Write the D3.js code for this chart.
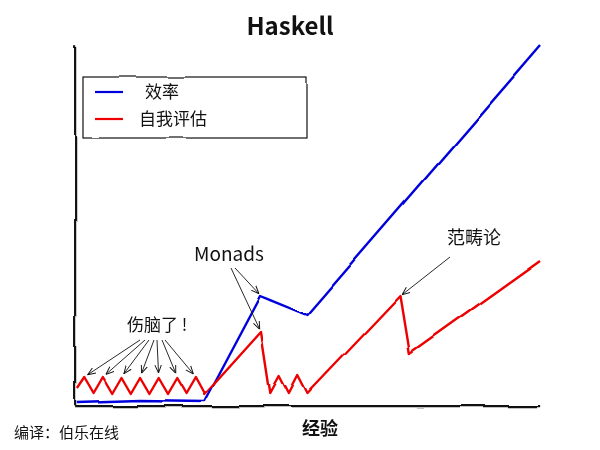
<!DOCTYPE html>
<html>
<head>
<meta charset="utf-8">
<script src="https://cdn.jsdelivr.net/npm/d3@7/dist/d3.min.js"></script>
<style>
  body { margin: 0; background: #fff; }
  svg { display: block; }
  text { font-family: "Noto Sans CJK SC", "Noto Sans", sans-serif; fill: #111; }
</style>
</head>
<body>
<svg id="chart" width="600" height="450"></svg>
<script>
// ---- data ----
const redX = [0.2, 1, 2, 3, 4, 5, 6, 7, 8, 9, 10, 11, 12, 13, 14, 20, 21, 22, 23, 24, 25, 35, 36, 50];
const redY = [1.7, 2.8, 1.2, 2.8, 1.2, 2.8, 1.2, 2.8, 1.2, 2.8, 1.2, 2.8, 1.2, 2.8, 1.1, 7.3, 1.2, 2.9, 1.1, 2.9, 1.1, 10.9, 5.2, 14.5];
const blueX = [0.2, 7, 14, 20, 25, 50];
const blueY = [0.3, 0.5, 0.4, 10.9, 9.0, 35.9];
const seriesNames = ["效率", "自我评估"];
const title = "Haskell";
const xLabel = "经验";
const credit = "编译：伯乐在线";
// annotations: label and index of target point in a series
const headacheTargets = [1, 3, 5, 7, 9, 11, 13];   // red peaks
const monadsTargets = [{s: "blue", i: 3}, {s: "red", i: 15}];
const categoryTarget = {s: "red", i: 21};

// ---- layout ----
const svg = d3.select("#chart");
const x = d3.scaleLinear().domain([0, 50]).range([75, 540]);
const y = d3.scaleLinear().domain([0, 36]).range([405, 45]);
const K = 4; // supersampling factor for hand-drawn wobble
const xH = x.copy().range(x.range().map(v => v * K));
const yH = y.copy().range(y.range().map(v => v * K));

const defs = svg.append("defs");
function roughFilter(id, freq, scale, seedA, seedB) {
  const f = defs.append("filter").attr("id", id).attr("filterUnits", "userSpaceOnUse")
    .attr("x", 0).attr("y", 0).attr("width", 600 * K).attr("height", 450 * K)
    .attr("color-interpolation-filters", "sRGB");
  f.append("feTurbulence").attr("type", "fractalNoise").attr("baseFrequency", freq / K)
    .attr("numOctaves", 1).attr("seed", seedA).attr("result", "n1");
  f.append("feTurbulence").attr("type", "fractalNoise").attr("baseFrequency", freq / K)
    .attr("numOctaves", 1).attr("seed", seedB).attr("result", "n2");
  f.append("feColorMatrix").attr("in", "n1").attr("type", "matrix")
    .attr("values", "0 0 0 1 0  0 0 0 0 0  0 0 0 0 0  0 0 0 0 1").attr("result", "r");
  f.append("feColorMatrix").attr("in", "n2").attr("type", "matrix")
    .attr("values", "0 0 0 0 0  0 0 0 1 0  0 0 0 0 0  0 0 0 0 1").attr("result", "g");
  f.append("feComposite").attr("in", "r").attr("in2", "g").attr("operator", "arithmetic")
    .attr("k1", 0).attr("k2", 1).attr("k3", 1).attr("k4", 0).attr("result", "map");
  f.append("feDisplacementMap").attr("in", "SourceGraphic").attr("in2", "map")
    .attr("scale", scale * K).attr("xChannelSelector", "R").attr("yChannelSelector", "G");
}
roughFilter("rough", 0.012, 5, 3, 11);
roughFilter("rough2", 0.02, 3.5, 7, 19);

defs.append("marker").attr("id", "arrow")
  .attr("viewBox", "0 0 10 10").attr("refX", 10).attr("refY", 5)
  .attr("markerWidth", 8).attr("markerHeight", 8).attr("markerUnits", "userSpaceOnUse")
  .attr("orient", "auto")
  .append("path").attr("d", "M0,1 L10,5 L0,9").attr("fill", "none")
  .attr("stroke", "#111").attr("stroke-width", 1.2);

function hiGroup(filterId) {
  return svg.append("g").attr("transform", `scale(${1 / K})`)
    .append("g").attr("filter", `url(#${filterId})`);
}

// legend box (drawn first so lines are above nothing)
const legBox = hiGroup("rough2");
legBox.append("rect").attr("x", 83 * K).attr("y", 77 * K).attr("width", 224 * K).attr("height", 61 * K)
  .attr("fill", "#fff").attr("stroke", "#111").attr("stroke-width", 1.2 * K);

// axes (spines only, no ticks)
const axG = hiGroup("rough2");
const xAxis = d3.axisBottom(xH).tickValues([]).tickSizeOuter(0);
const yAxis = d3.axisLeft(yH).tickValues([]).tickSizeOuter(0);
axG.append("g").attr("transform", `translate(0,${406 * K})`).call(xAxis)
  .select(".domain").attr("stroke", "#111").attr("stroke-width", 2.2 * K);
axG.append("g").attr("transform", `translate(${75 * K},0)`).call(yAxis)
  .select(".domain").attr("stroke", "#111").attr("stroke-width", 2.2 * K);

// lines
const lineH = d3.line().x(d => xH(d[0])).y(d => yH(d[1]));
const red = d3.zip(redX, redY);
const blue = d3.zip(blueX, blueY);
const linesG = hiGroup("rough");
linesG.append("path").datum(blue).attr("d", lineH).attr("fill", "none")
  .attr("stroke", "#0000dd").attr("stroke-width", 2.4 * K).attr("stroke-linejoin", "round");
linesG.append("path").datum(red).attr("d", lineH).attr("fill", "none")
  .attr("stroke", "#ee0000").attr("stroke-width", 2.4 * K).attr("stroke-linejoin", "round");

// annotations
const ann = svg.append("g");
function arrow(x0, y0, px, py, shrink) {
  const dx = px - x0, dy = py - y0, L = Math.hypot(dx, dy);
  const tx = px - dx / L * shrink, ty = py - dy / L * shrink;
  ann.append("line").attr("x1", x0).attr("y1", y0).attr("x2", tx).attr("y2", ty)
    .attr("stroke", "#111").attr("stroke-width", 0.9).attr("marker-end", "url(#arrow)");
}
ann.append("text").attr("x", 127).attr("y", 331)
  .attr("font-size", 17).text("伤脑了 !");
const startXs = [140, 145, 149, 154, 157, 162, 165];
headacheTargets.forEach((idx, k) => {
  arrow(startXs[k], 340, x(redX[idx]), y(redY[idx]), 4);
});
ann.append("text").attr("x", 229).attr("y", 261).attr("text-anchor", "middle")
  .attr("font-size", 19).text("Monads");
arrow(235, 268, x(blueX[monadsTargets[0].i]), y(blueY[monadsTargets[0].i]), 3);
arrow(231, 268, x(redX[monadsTargets[1].i]), y(redY[monadsTargets[1].i]), 3);
ann.append("text").attr("x", 474).attr("y", 244).attr("text-anchor", "middle")
  .attr("font-size", 18).text("范畴论");
arrow(450, 257, x(redX[categoryTarget.i]), y(redY[categoryTarget.i]), 2);

// legend entries
const lg = svg.append("g");
const legColors = ["#0000dd", "#ee0000"];
const legY = [92, 119];
const legTextX = [145, 139];
seriesNames.forEach((n, i) => {
  lg.append("line").attr("x1", 95).attr("x2", 123).attr("y1", legY[i]).attr("y2", legY[i])
    .attr("stroke", legColors[i]).attr("stroke-width", 2.2);
  lg.append("text").attr("x", legTextX[i]).attr("y", legY[i] + 6).attr("font-size", 17).text(n);
});

// titles
svg.append("text").attr("x", 290).attr("y", 35).attr("text-anchor", "middle")
  .attr("font-size", 24).attr("font-weight", "bold").text(title);
svg.append("text").attr("x", 320).attr("y", 435).attr("text-anchor", "middle")
  .attr("font-size", 18).attr("font-weight", "bold").text(xLabel);
svg.append("text").attr("x", 14).attr("y", 438).attr("font-size", 15).text(credit);
</script>
</body>
</html>
